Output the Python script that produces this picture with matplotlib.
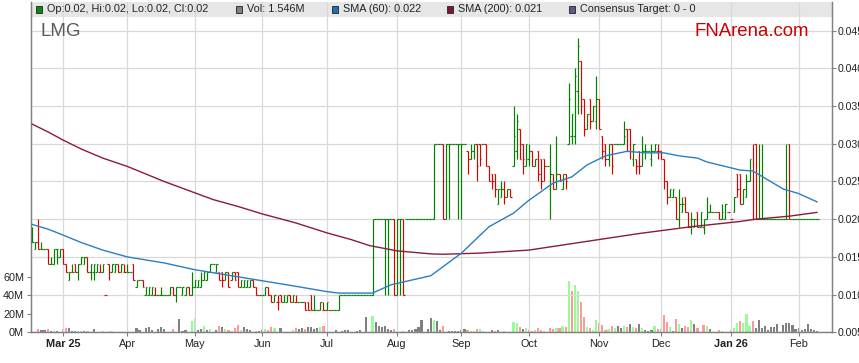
import numpy as np
import pandas as pd
import matplotlib
matplotlib.use("Agg")
import matplotlib.pyplot as plt
from matplotlib.collections import LineCollection
from matplotlib.patches import Rectangle

plt.rcParams['font.family'] = ['Liberation Sans', 'DejaVu Sans']

# --- data (prices in tenths of a cent, i.e. 17 -> 0.017; volume in millions)
start_day = "2025-02-17"

opens = [17,16,17,16,16,16,14,14,16,15, 16,14,12,13,14,13,14,14,15,13,
         13,13,13,13,10,14,13,13,14,13, 13,13,13,14,11,12,12,10,10,10,
         10,10,10,10,10,10,11,10,11,10, 10,11,10,11,11,11,12,12,13,14,
         13,13,13,12,13,12,13,13,11,11, 11,11,12,11,10,10,10,11,10,9,
         9,10,9,9,10,9,9,9,9,9, 9,10,8,8,8,8,8,8,8,8,
         8,10,10,10,10,10,10,10,10,10, 10,10,20,20,20,20,20,20,20,10,
         20,20,20,20,20,20,20,20,20,20, 20,20,30,30,30,20,30,30,30,30,
         30,30,29,28,29,30,30,30,30,27, 26,26,22,23,24,23,24,27,29,32,
         30,27,28,29,27,29,28,28,27,24, 26,24,26,24,26,30,31,31,37,41,
         36,32,36,33,33,36,31,30,28,30, 30,30,30,30,32,32,28,28,29,27,
         29,29,28,29,29,29,28,25,23,23, 23,20,21,23,21,19,19,21,19,19,
         20,21,21,21,21,20,20,21,20,21, 26,26,22,23,25,20,30,20,20,20,
         20,20,20,20,20,20,20,30,20,20, 20,20,20,20,20,20,20]
highs = [19,17,20,17,16,16,15,16,16,16, 16,14,13,14,14,14,15,15,15,14,
         14,14,14,14,10,14,14,14,14,14, 14,14,13,14,12,12,12,11,11,11,
         11,10,11,10,10,11,11,11,11,11, 11,11,13,12,12,13,13,13,14,14,
         14,13,13,13,13,13,13,13,12,12, 12,12,12,11,10,10,11,11,10,10,
         10,10,10,10,10,10,10,9,9,9, 9,10,10,8,9,9,9,8,8,8,
         10,10,10,10,10,10,10,10,10,10, 10,20,20,20,20,20,20,20,20,20,
         20,20,20,20,20,20,20,20,20,20, 20,30,30,30,30,30,30,30,30,30,
         30,30,29,30,30,30,30,30,30,27, 26,26,24,25,25,24,24,35,34,32,
         30,30,30,29,28,29,28,28,27,30, 26,31,26,26,26,38,34,40,44,41,
         36,34,36,35,39,36,31,30,30,30, 30,30,30,33,32,32,30,28,29,31,
         30,29,30,30,30,29,28,25,24,24, 23,24,23,23,21,21,20,21,21,20,
         23,22,21,21,21,22,22,21,20,23, 26,26,24,26,28,30,30,30,30,20,
         20,20,20,20,20,20,30,30,20,20, 20,20,20,20,20,20,20]
lows = [17,16,16,16,16,14,14,14,14,15, 14,13,12,13,13,12,14,14,13,12,
        12,13,13,13,10,12,13,13,13,13, 13,13,13,12,11,12,11,10,10,10,
        10,10,10,10,10,10,10,9,11,10, 10,10,10,11,11,11,12,12,13,14,
        13,12,11,12,11,12,12,11,11,11, 11,11,11,10,10,10,10,10,9,9,
        8,9,9,9,9,9,9,9,9,8, 8,8,8,8,8,8,8,8,8,8,
        8,10,10,10,10,10,10,10,10,10, 10,10,20,20,20,10,10,20,10,10,
        10,10,20,20,20,20,20,20,20,20, 20,20,30,30,20,20,20,30,30,20,
        20,30,26,28,28,25,27,30,27,25, 24,23,22,23,22,23,23,27,28,28,
        26,27,27,27,27,25,24,25,27,20, 24,24,25,24,24,30,30,30,34,34,
        31,32,32,33,32,32,28,27,27,26, 30,30,30,30,29,28,27,26,26,27,
        28,29,27,29,28,28,24,22,23,23, 20,19,21,21,19,18,19,19,19,18,
        20,21,21,21,20,20,20,21,20,21, 23,22,22,23,25,20,20,20,20,20,
        20,20,20,20,20,20,20,20,20,20, 20,20,20,20,20,20,20]
closes = [17,17,16,16,16,14,14,16,16,16, 14,13,13,13,13,14,15,15,13,14,
          14,14,13,14,10,13,14,14,13,14, 13,13,13,12,12,12,11,11,11,11,
          10,10,10,10,10,11,10,11,11,11, 11,10,11,12,12,12,13,13,14,14,
          14,12,12,13,11,13,12,11,12,12, 12,12,11,10,10,10,11,10,9,10,
          9,9,10,10,9,10,9,9,9,8, 8,8,8,8,9,8,9,8,8,8,
          10,10,10,10,10,10,10,10,10,10, 10,20,20,20,20,20,20,20,10,20,
          20,10,20,20,20,20,20,20,20,20, 20,30,30,30,20,30,30,30,30,30,
          30,30,28,29,30,27,28,30,27,25, 25,24,24,24,23,24,23,31,33,28,
          28,30,29,27,28,26,25,27,27,26, 24,26,25,26,25,36,34,39,43,35,
          32,34,33,35,36,32,29,28,30,27, 30,30,30,31,29,29,30,27,27,29,
          29,29,29,30,29,28,25,23,24,24, 20,22,22,21,19,20,20,19,21,20,
          21,21,21,21,20,21,22,21,20,23, 24,22,24,25,28,20,20,20,20,20,
          20,20,20,20,20,20,20,20,20,20, 20,20,20,20,20,20,20]
volumes = [0,0,3.3,2.2,2.2,3.3,1.4,1,1,0, 3.3,4.3,4.3,1,1,1,1,1,1,0,
           3.3,0,0,1,0,1,1,0,0,0, 0,0,0,0,4.3,2.2,0,4.3,5.4,2.2,
           0,3.3,5.4,3.3,0,0,3.3,0,14.1,1, 2.2,0,11.9,15.2,2.2,3.3,6.5,2.2,3.3,0,
           2.2,6.5,5.4,3.3,2.2,1,4.3,7.6,2.2,5.4, 3.3,2.2,0,1,1,2.2,3.3,2.2,5.4,4.3,
           0,4.3,0,0,0,2.2,4.3,3.3,4.3,3.3, 5.4,5.4,3.3,4.3,5.4,6.5,0,0,0,2.2,
           0,1,2.2,2.2,0,0,1,2.2,0,16.3, 0,17.4,10.8,6.5,5.4,6.5,3.3,2.2,3.3,1,
           0,1,0,2.2,2.2,3.3,5.4,13,0,3.3, 15.2,13,12,2.2,6.5,0,1,1,1,1,
           2.2,3.3,2.2,1,1,3.3,3.3,1,0,0, 2.2,1,2.2,0,1,0,0,10.8,9.8,5.4,
           3.3,4.3,2.2,1,2.2,4.3,2.2,1,0,4.3, 3.3,4.3,4.3,6.5,5.4,55.3,44.5,51,44.5,32.5,
           16.3,5.4,4.3,2.2,13,9.8,7.6,2.2,3.3,6.5, 4.3,6.5,4.3,6.5,5.4,8.7,5.4,4.3,8.7,4.3,
           2.2,1,2.2,6.5,3.3,3.3,18.4,10.8,5.4,1, 14.1,8.7,4.3,6.5,5.4,13,8.7,4.3,0,7.6,
           6.5,3.3,0,0,2.2,1,0,0,2.2,4.3, 9.8,11.9,9.8,19.5,6.5,11.9,4.3,13,4.3,6.5,
           2.2,5.4,5.4,8.7,0,7.6,9.8,9.8,7.6,3.3, 4.3,2.2,3.3,8.7,3.3,2.2,1.5]

# moving averages (bar number, value)
sma60_bar = [0, 5, 10, 16, 23, 31, 43, 53, 65, 74, 86, 96, 100, 111, 117, 130, 134, 140, 149, 157, 162,
             170, 176, 181, 187, 194, 200, 206, 211, 217, 220, 231, 235, 240, 245, 250, 256]
sma60_val = [19.3, 18.7, 17.9, 16.9, 15.9, 15.0, 14.2, 13.3, 12.5, 11.9, 11.1, 10.4, 10.2, 10.2, 11.3, 12.5,
             13.7, 15.5, 19.0, 20.8, 22.5, 24.8, 25.6, 27.2, 28.4, 29.0, 28.8, 28.8, 28.4, 28.1, 27.6,
             26.5, 26.4, 25.2, 24.0, 23.4, 22.3]
sma200_bar = [0, 5, 10, 16, 23, 31, 43, 53, 59, 67, 75, 86, 96, 104, 110, 119, 130, 134, 146, 162, 180,
              198, 215, 231, 236, 247, 256]
sma200_val = [32.6, 31.6, 30.5, 29.3, 28.1, 27.0, 25.0, 23.5, 22.6, 21.7, 20.7, 19.5, 18.2, 17.3, 16.5,
              15.8, 15.4, 15.35, 15.5, 15.9, 17.0, 18.1, 19.0, 19.7, 20.0, 20.4, 20.9]

# --- prep
o = np.array(opens) / 1000
h = np.array(highs) / 1000
l = np.array(lows) / 1000
c = np.array(closes) / 1000
vol = np.array(volumes)
n = len(c)
xs = np.arange(n)
dates = pd.bdate_range(start_day, periods=n)

prev = np.r_[c[0], c[:-1]]
down = (c < o) | ((c == o) & (c < prev))
bar_col = np.where(down, '#dd0000', '#008000')
vol_col = np.where(c > prev, '#98fb98', np.where(c < prev, '#ff9898', '#808080'))

# --- figure
W, H = 859, 363
fig = plt.figure(figsize=(W / 100, H / 100), dpi=100)
ax = fig.add_axes([31 / W, (H - 332.3) / H, (832 - 31) / W, (332.3 - 2) / H])
axp = ax.twinx()

ax.set_xlim(-0.42, 260.9)
ax.set_ylim(0, 358)
axp.set_ylim(0.005, 0.0488)

# legend band at the top
ax.add_patch(Rectangle((0, (332.3 - 17) / 330.3), 1, 15 / 330.3, transform=ax.transAxes,
                       facecolor='#e6e6e6', edgecolor='none', zorder=0))

# volume
ax.bar(xs, vol, width=0.7, color=vol_col, zorder=2)

# grid
for t in np.arange(0.005, 0.0451, 0.005):
    axp.axhline(t, color='#d9d9d9', lw=0.9, zorder=0)

# month ticks
month_pos, month_lab, month_bold = [], [], []
for i in range(1, n):
    if dates[i].month != dates[i - 1].month:
        month_pos.append(i)
        if dates[i].month == 1 or not month_pos[:-1]:
            month_lab.append(dates[i].strftime('%b %y'))
            month_bold.append(True)
        else:
            month_lab.append(dates[i].strftime('%b'))
            month_bold.append(False)
for p in month_pos:
    axp.axvline(p, color='#d9d9d9', lw=0.9, zorder=0)

# OHLC bars
segs, cols = [], []
for i in range(n):
    segs += [[(i, l[i]), (i, h[i])], [(i - 0.5, o[i]), (i, o[i])], [(i, c[i]), (i + 0.5, c[i])]]
    cols += [bar_col[i]] * 3
axp.add_collection(LineCollection(segs, colors=cols, linewidths=0.85, zorder=3))

# moving averages
axp.plot(sma200_bar, np.array(sma200_val) / 1000, color='#8b1a3e', lw=1.0, zorder=4)
axp.plot(sma60_bar, np.array(sma60_val) / 1000, color='#2b7fc0', lw=1.0, zorder=4)

# axes cosmetics
ax.set_xticks(month_pos)
ax.set_xticklabels(month_lab)
for lab, b in zip(ax.get_xticklabels(), month_bold):
    if b:
        lab.set_fontweight('bold')
ax.set_yticks([0, 20, 40, 60])
ax.set_yticklabels(['0M', '20M', '40M', '60M'])
ax.tick_params(axis='both', labelsize=7.8, length=3, width=0.8, colors='#808080', labelcolor='#222222', pad=2)
ticks = np.arange(0.005, 0.0451, 0.005)
axp.set_yticks(ticks)
axp.set_yticklabels(['%.3f' % t for t in ticks])
axp.tick_params(axis='y', labelsize=7.6, length=3, width=0.8, colors='#808080', labelcolor='#222222', pad=1)
for a in (ax, axp):
    a.spines['top'].set_visible(False)
    for s in ('left', 'right', 'bottom'):
        a.spines[s].set_color('#808080')
        a.spines[s].set_linewidth(0.9)

# legend texts
def fx(px):
    return px / W


def fy(py):
    return 1 - py / H


items = [(36, '#0a8a0a', 'Op:0.02, Hi:0.02, Lo:0.02, Cl:0.02'),
         (236, '#808080', 'Vol: 1.546M'),
         (332, '#1f6fb4', 'SMA (60): 0.022'),
         (447, '#7d1631', 'SMA (200): 0.021'),
         (568.5, '#5c5c8c', 'Consensus Target: 0 - 0')]
for px, col, txt in items:
    fig.patches.append(Rectangle((fx(px), fy(12.5)), 6 / W, 6.5 / H, transform=fig.transFigure,
                                 facecolor=col, edgecolor='#333333', lw=0.7))
    fig.text(fx(px + 11), fy(9.5), txt, fontsize=7.8, color='#222222', va='center', ha='left')

fig.text(fx(41), fy(32), 'LMG', fontsize=13.5, color='#5a5a5a', va='center', ha='left')
fig.text(fx(808.5), fy(32), 'FNArena.com', fontsize=13.4, color='#cc0000', va='center', ha='right')

fig.savefig('out.png', dpi=100)
